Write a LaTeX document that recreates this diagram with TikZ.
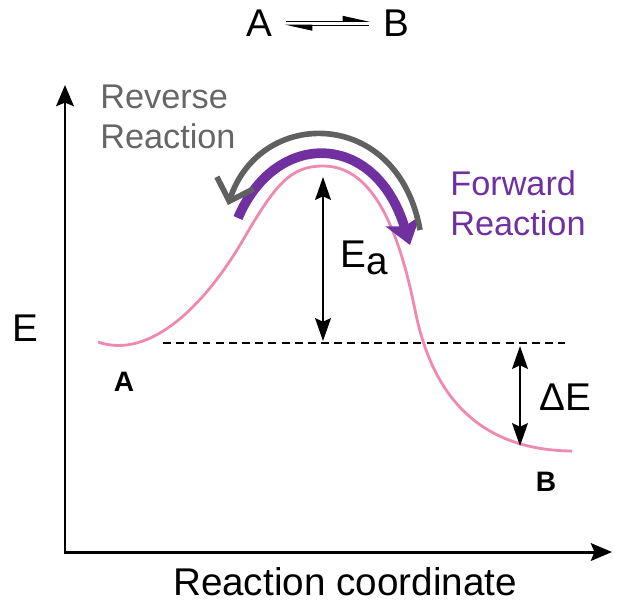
\documentclass[tikz,border=0pt]{standalone}
\usepackage{fontspec}
\setmainfont{Liberation Sans}
\usepackage{xcolor}
\usetikzlibrary{arrows.meta}
\definecolor{curvepink}{RGB}{238,138,178}
\definecolor{fwdpurple}{RGB}{112,48,160}
\definecolor{revgray}{RGB}{96,96,96}
\definecolor{txtgray}{RGB}{102,102,102}

\begin{document}
\begin{tikzpicture}[
  x=0.02cm, y=-0.02cm,
  txt/.style={font=\fontsize{22}{26}\selectfont, inner sep=0pt},
  side/.style={font=\fontsize{19.5}{22.7}\selectfont, align=left, inner sep=0pt, anchor=north west},
  tag/.style={font=\bfseries\fontsize{16}{18}\selectfont, inner sep=0pt},
  axis/.style={line width=1.7pt, {Stealth[length=12pt,width=10pt,inset=2pt]}-{Stealth[length=12pt,width=10pt,inset=2pt]}},
  gap/.style={line width=1.1pt, {Stealth[length=13pt,width=9pt,inset=2pt]}-{Stealth[length=13pt,width=9pt,inset=2pt]}},
  harpoon/.style={line width=0.8pt, shorten <=8pt, shorten >=7pt, -{Stealth[left,length=14pt,width=6pt,inset=0pt]}},
  fwd/.style={color=fwdpurple, line width=5.5pt, -{Stealth[length=14pt,width=20pt,inset=3pt]}},
  rev/.style={color=revgray, line width=3.2pt, -{Straight Barb[length=11pt,width=22pt]}}
]
\useasboundingbox (0,0) rectangle (617,610);

\node[txt] (titleA) at (259,23) {A};
\node[txt] (titleB) at (396,23) {B};
\draw[harpoon] ([yshift=1pt]titleA.east) -- ([yshift=1pt]titleB.west);
\draw[harpoon] ([yshift=-1.3pt]titleB.west) -- ([yshift=-1.3pt]titleA.east);

\coordinate (ytip) at (65,85);
\coordinate (xtip) at (612,552);
\draw[axis] (ytip) |- (xtip);
\node[txt] (energy) at (25,328) {E};
\node[txt, anchor=base] (coord) at (345,595) {Reaction coordinate};

\draw[curvepink, line width=1.6pt] (98,342)
  .. controls (150,360) and (205,305) .. (243,240)
  .. controls (275,185) and (290,166) .. (323,166)
  .. controls (365,166) and (395,210) .. (415,310)
  .. controls (430,385) and (470,450) .. (572,451);

\coordinate (dashL) at (163,343);
\coordinate (dashR) at (565,343);
\draw[line width=1.2pt, dash pattern=on 4.5pt off 3pt] (dashL) -- (dashR);

\coordinate (eaTop) at (323,177);
\coordinate (eaBot) at (323,341);
\draw[gap] (eaTop) -- (eaBot);
\node[txt, anchor=base west] (ea) at (340,267) {E\raisebox{-4.5pt}{a}};

\coordinate (deTop) at (520,346);
\coordinate (deBot) at (520,446);
\draw[gap] (deTop) -- (deBot);
\node[txt] (dE) at (565,397) {ΔE};

\node[tag] (stateA) at (124,382) {A};
\node[tag] (stateB) at (546,482) {B};

\node[side, text=txtgray] (revtxt) at (100,85) {Reverse\\Reaction};
\node[side, text=fwdpurple] (fwdtxt) at (450,170) {Forward\\Reaction};

\coordinate (fwdStart) at (238,218);
\coordinate (fwdEnd) at (410,245);
\draw[fwd] (fwdStart) .. controls (275,130) and (375,130) .. (fwdEnd);
\coordinate (revStart) at (420,230);
\coordinate (revEnd) at (228,205);
\draw[rev] (revStart) .. controls (398,107) and (260,107) .. (revEnd);
\end{tikzpicture}
\end{document}
